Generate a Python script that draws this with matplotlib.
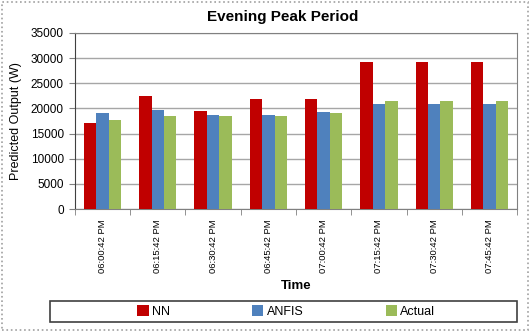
import matplotlib.pyplot as plt
import matplotlib.patches as mpatches
import numpy as np

plt.rcParams["font.family"] = ["Liberation Sans", "DejaVu Sans"]

times = ["06:00:42 PM", "06:15:42 PM", "06:30:42 PM", "06:45:42 PM",
         "07:00:42 PM", "07:15:42 PM", "07:30:42 PM", "07:45:42 PM"]
nn = [17200, 22500, 19500, 21900, 21900, 29300, 29300, 29300]
anfis = [19100, 19700, 18600, 18600, 19300, 20900, 20900, 20900]
actual = [17700, 18400, 18400, 18400, 19100, 21400, 21400, 21400]

series = [("NN", nn, "#C00000"), ("ANFIS", anfis, "#4F81BD"), ("Actual", actual, "#9BBB59")]

fig = plt.figure(figsize=(5.31, 3.32), dpi=100)
ax = fig.add_axes([0.141, 0.370, 0.833, 0.531])

x = np.arange(len(times))
w = 0.225
handles = []
for i, (name, vals, color) in enumerate(series):
    b = ax.bar(x + (i - 1) * w, vals, width=w, color=color, label=name, zorder=3)
    handles.append(b)

ax.set_xlim(-0.5, len(times) - 0.5)
ax.set_ylim(0, 35000)
ax.set_yticks(np.arange(0, 35001, 5000))
ax.yaxis.grid(True, color="#A6A6A6", linewidth=1.0, zorder=0)
ax.tick_params(axis="y", labelsize=8.5, length=4, color="#808080", pad=4)

# category labels centred, tick marks on the group boundaries
ax.set_xticks(x)
ax.set_xticklabels(times, rotation=90, fontsize=6.8)
ax.tick_params(axis="x", which="major", length=0, pad=7)
ax.set_xticks(np.arange(-0.5, len(times)), minor=True)
ax.tick_params(axis="x", which="minor", length=4, color="#808080", direction="out")

for side in ["top", "right"]:
    ax.spines[side].set_color("#808080")
ax.spines["left"].set_color("#404040")
ax.spines["bottom"].set_color("#808080")

fig.text(0.532, 0.948, "Evening Peak Period", fontsize=11, fontweight="bold",
         ha="center", va="center")
ax.set_ylabel("Predicted Output (W)", fontsize=9, labelpad=6)
ax.set_xlabel("Time", fontsize=9.5, fontweight="bold", labelpad=5)

# legend frame drawn separately so the entries can sit centred inside it
fig.patches.append(mpatches.Rectangle((0.094, 0.030), 0.880, 0.062, transform=fig.transFigure,
                                      fill=False, edgecolor="#404040", linewidth=1.2))
fig.legend(handles=handles, labels=[s[0] for s in series], loc="center",
           bbox_to_anchor=(0.539, 0.061), ncol=3, fontsize=9, frameon=False,
           handlelength=0.9, handleheight=0.9, handletextpad=0.25,
           columnspacing=6.6, borderpad=0.2)

# dotted chart-area border
fig.patches.append(mpatches.Rectangle((0.003, 0.005), 0.992, 0.99, transform=fig.transFigure,
                                      fill=False, edgecolor="#A0A0A0", linestyle=":",
                                      linewidth=1.2))

fig.savefig("out.png", dpi=100)
